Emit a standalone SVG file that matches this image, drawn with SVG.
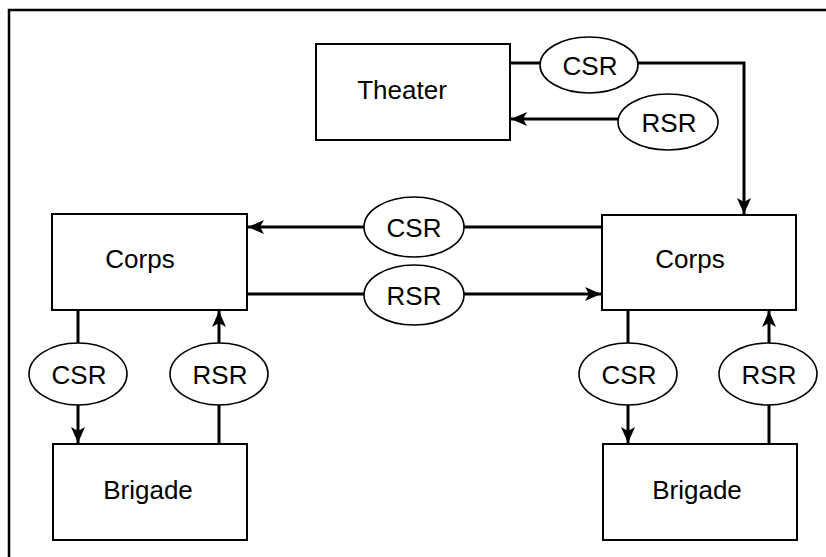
<svg xmlns="http://www.w3.org/2000/svg" width="826" height="557" viewBox="0 0 826 557">
<defs>
<style>
.box{fill:#fff;stroke:#000;stroke-width:2}
.ell{fill:#fff;stroke:#000;stroke-width:1.6}
.lbl{font-family:"Liberation Sans",Arial,Helvetica,sans-serif;font-size:26px;fill:#000;text-anchor:middle}
.con{fill:none;stroke:#000;stroke-width:3}
</style>
<marker id="arr" viewBox="0 0 16 16" refX="16" refY="8" markerWidth="16" markerHeight="16" markerUnits="userSpaceOnUse" orient="auto">
<path d="M0,1 L16,8 L0,15 L4,8 Z" fill="#000"/>
</marker>
</defs>
<rect width="826" height="557" fill="#fff"/>
<path d="M9,557 V10 H826" fill="none" stroke="#000" stroke-width="2.5"/>
<g id="connectors">
<path class="con" d="M510,63 H744 V214" marker-end="url(#arr)"/>
<path class="con" d="M668,119 H511" marker-end="url(#arr)"/>
<path class="con" d="M602,227 H248" marker-end="url(#arr)"/>
<path class="con" d="M247,294 H601" marker-end="url(#arr)"/>
<path class="con" d="M78,310 V443" marker-end="url(#arr)"/>
<path class="con" d="M219,444 V311" marker-end="url(#arr)"/>
<path class="con" d="M628,310 V443" marker-end="url(#arr)"/>
<path class="con" d="M769,444 V311" marker-end="url(#arr)"/>
</g>
<g id="theater"><rect class="box" x="316" y="44" width="194" height="96"/><text class="lbl" x="402" y="99">Theater</text></g>
<g id="corps-left"><rect class="box" x="52" y="214" width="195" height="96"/><text class="lbl" x="140" y="268">Corps</text></g>
<g id="corps-right"><rect class="box" x="602" y="215" width="194" height="95"/><text class="lbl" x="690" y="268">Corps</text></g>
<g id="brigade-left"><rect class="box" x="53" y="444" width="194" height="96"/><text class="lbl" x="148" y="499">Brigade</text></g>
<g id="brigade-right"><rect class="box" x="603" y="444" width="194" height="96"/><text class="lbl" x="697" y="499">Brigade</text></g>
<g id="csr-top"><ellipse class="ell" cx="589" cy="65" rx="49" ry="28"/><text class="lbl" x="590" y="75">CSR</text></g>
<g id="rsr-top"><ellipse class="ell" cx="668" cy="122" rx="50" ry="28"/><text class="lbl" x="669" y="132">RSR</text></g>
<g id="csr-mid"><ellipse class="ell" cx="414" cy="227" rx="50" ry="30"/><text class="lbl" x="414" y="237">CSR</text></g>
<g id="rsr-mid"><ellipse class="ell" cx="414" cy="295" rx="50" ry="30"/><text class="lbl" x="414" y="305">RSR</text></g>
<g id="csr-left"><ellipse class="ell" cx="78" cy="374" rx="49" ry="31"/><text class="lbl" x="79" y="384">CSR</text></g>
<g id="rsr-left"><ellipse class="ell" cx="219" cy="374" rx="49" ry="31"/><text class="lbl" x="220" y="384">RSR</text></g>
<g id="csr-right"><ellipse class="ell" cx="628" cy="374" rx="49" ry="31"/><text class="lbl" x="629" y="384">CSR</text></g>
<g id="rsr-right"><ellipse class="ell" cx="768" cy="374" rx="49" ry="31"/><text class="lbl" x="769" y="384">RSR</text></g>
</svg>
